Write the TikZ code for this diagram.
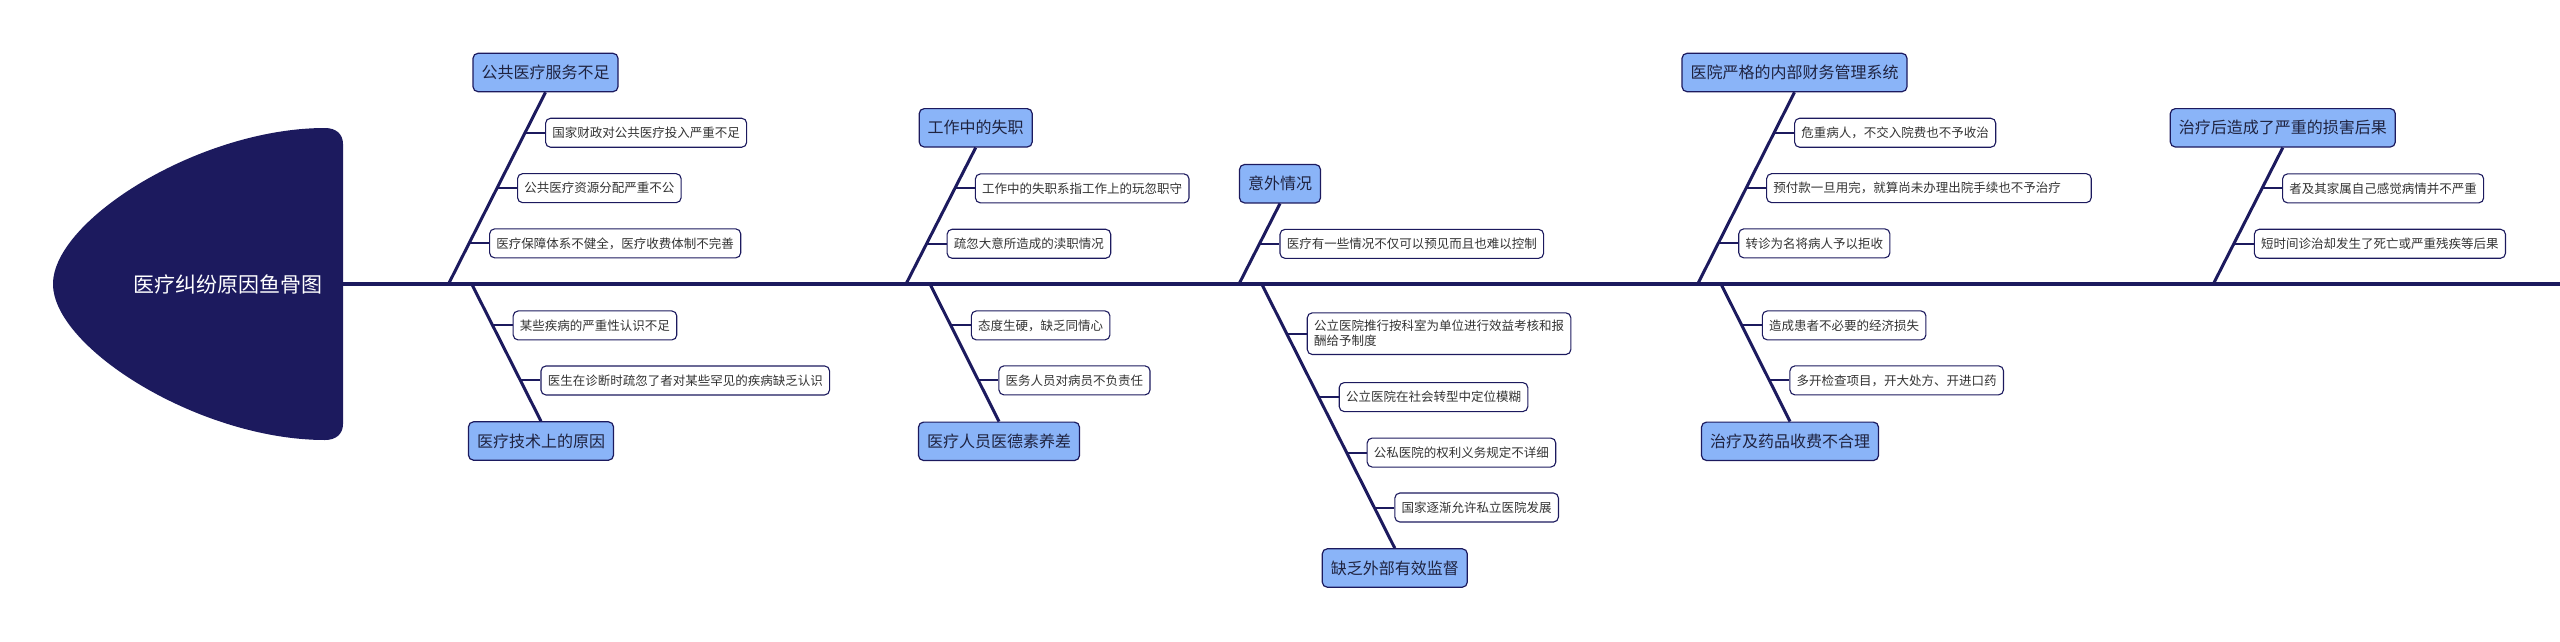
\documentclass[tikz,border=0pt]{standalone}
\usepackage{fontspec}
\newfontfamily\cjk{Noto Sans CJK SC}
\usetikzlibrary{calc}
\definecolor{navy}{HTML}{1C1A5E}
\definecolor{catblue}{HTML}{8AB4F8}
\definecolor{txt}{HTML}{333333}
\definecolor{cattxt}{HTML}{1F2340}
\begin{document}
\begin{tikzpicture}[x=1pt,y=-1pt,
 cat/.style={draw=navy, fill=catblue, rounded corners=5pt, line width=1.2pt, font=\cjk\fontsize{16}{19}\selectfont, text=cattxt, minimum height=38.4pt, inner xsep=8.5pt, inner ysep=2pt},
 sub/.style={draw=navy, fill=white, rounded corners=5pt, line width=1.1pt, font=\cjk\fontsize{12.5}{15}\selectfont, text=txt, minimum height=29pt, inner xsep=6.8pt, inner ysep=2pt, anchor=west},
 spine/.style={draw=navy, line width=3.2pt},
 bone/.style={draw=navy, line width=3pt},
 twig/.style={draw=navy, line width=2pt},
]
\useasboundingbox (0,0) rectangle (2560,641);
% head
\fill[navy] (325,128) .. controls (200,128) and (53,220) .. (53,284)
  .. controls (53,348) and (200,440) .. (325,440)
  .. controls (336,440) and (343,434) .. (343,424) -- (343,144)
  .. controls (343,134) and (336,128) .. (325,128) -- cycle;
\node[font=\cjk\fontsize{21}{25}\selectfont, text=white] (title) at (227.5,284) {医疗纠纷原因鱼骨图};
\coordinate (hd) at (343,284);
\coordinate (tail) at (2560,284);
\draw[spine] (hd) -- (tail);

% ---------- Bone 1 up
\coordinate (p1u) at (448.5,284);
\node[cat] (c1) at (545.5,72.5) {公共医疗服务不足};
\draw[bone] (p1u) -- (c1.south);
\coordinate (k11) at ($(p1u)!0.789!(c1.south)$);
\node[sub] (s11) at ($(k11)+(20,0)$) {国家财政对公共医疗投入严重不足};
\draw[twig] (k11) -- (s11.west);
\coordinate (k12) at ($(p1u)!0.500!(c1.south)$);
\node[sub] (s12) at ($(k12)+(20,0)$) {公共医疗资源分配严重不公};
\draw[twig] (k12) -- (s12.west);
\coordinate (k13) at ($(p1u)!0.212!(c1.south)$);
\node[sub] (s13) at ($(k13)+(20,0)$) {医疗保障体系不健全，医疗收费体制不完善};
\draw[twig] (k13) -- (s13.west);

% ---------- Bone 1 down
\coordinate (p1d) at (471.7,284);
\node[cat] (d1) at (541,441) {医疗技术上的原因};
\draw[bone] (p1d) -- (d1.north);
\coordinate (m11) at ($(p1d)!0.302!(d1.north)$);
\node[sub] (t11) at ($(m11)+(20,0)$) {某些疾病的严重性认识不足};
\draw[twig] (m11) -- (t11.west);
\coordinate (m12) at ($(p1d)!0.703!(d1.north)$);
\node[sub] (t12) at ($(m12)+(20,0)$) {医生在诊断时疏忽了者对某些罕见的疾病缺乏认识};
\draw[twig] (m12) -- (t12.west);

% ---------- Bone 2 up
\coordinate (p2u) at (906,284);
\node[cat] (c2) at (975.7,127.8) {工作中的失职};
\draw[bone] (p2u) -- (c2.south);
\coordinate (k21) at ($(p2u)!0.701!(c2.south)$);
\node[sub] (s21) at ($(k21)+(20,0)$) {工作中的失职系指工作上的玩忽职守};
\draw[twig] (k21) -- (s21.west);
\coordinate (k22) at ($(p2u)!0.295!(c2.south)$);
\node[sub] (s22) at ($(k22)+(20,0)$) {疏忽大意所造成的渎职情况};
\draw[twig] (k22) -- (s22.west);

% ---------- Bone 2 down
\coordinate (p2d) at (930,284);
\node[cat] (d2) at (999,441.3) {医疗人员医德素养差};
\draw[bone] (p2d) -- (d2.north);
\coordinate (m21) at ($(p2d)!0.301!(d2.north)$);
\node[sub] (t21) at ($(m21)+(20,0)$) {态度生硬，缺乏同情心};
\draw[twig] (m21) -- (t21.west);
\coordinate (m22) at ($(p2d)!0.701!(d2.north)$);
\node[sub] (t22) at ($(m22)+(20,0)$) {医务人员对病员不负责任};
\draw[twig] (m22) -- (t22.west);

% ---------- Bone 3 up
\coordinate (p3u) at (1239,284);
\node[cat] (c3) at (1280,183.7) {意外情况};
\draw[bone] (p3u) -- (c3.south);
\coordinate (k31) at ($(p3u)!0.499!(c3.south)$);
\node[sub] (s31) at ($(k31)+(20,0)$) {医疗有一些情况不仅可以预见而且也难以控制};
\draw[twig] (k31) -- (s31.west);

% ---------- Bone 3 down
\coordinate (p3d) at (1261.7,284);
\node[cat] (d3) at (1394.8,568) {缺乏外部有效监督};
\draw[bone] (p3d) -- (d3.north);
\coordinate (m31) at ($(p3d)!0.188!(d3.north)$);
\node[sub, align=left, inner ysep=7.5pt] (t31) at ($(m31)+(20,0)$) {公立医院推行按科室为单位进行效益考核和报\\酬给予制度};
\draw[twig] (m31) -- (t31.west);
\coordinate (m32) at ($(p3d)!0.428!(d3.north)$);
\node[sub] (t32) at ($(m32)+(20,0)$) {公立医院在社会转型中定位模糊};
\draw[twig] (m32) -- (t32.west);
\coordinate (m33) at ($(p3d)!0.638!(d3.north)$);
\node[sub] (t33) at ($(m33)+(20,0)$) {公私医院的权利义务规定不详细};
\draw[twig] (m33) -- (t33.west);
\coordinate (m34) at ($(p3d)!0.846!(d3.north)$);
\node[sub] (t34) at ($(m34)+(20,0)$) {国家逐渐允许私立医院发展};
\draw[twig] (m34) -- (t34.west);

% ---------- Bone 4 up
\coordinate (p4u) at (1697.7,284);
\node[cat] (c4) at (1794.5,72.5) {医院严格的内部财务管理系统};
\draw[bone] (p4u) -- (c4.south);
\coordinate (k41) at ($(p4u)!0.789!(c4.south)$);
\node[sub] (s41) at ($(k41)+(20,0)$) {危重病人，不交入院费也不予收治};
\draw[twig] (k41) -- (s41.west);
\coordinate (k42) at ($(p4u)!0.500!(c4.south)$);
\node[sub, text width=311pt, align=left] (s42) at ($(k42)+(20,0)$) {预付款一旦用完，就算尚未办理出院手续也不予治疗};
\draw[twig] (k42) -- (s42.west);
\coordinate (k43) at ($(p4u)!0.212!(c4.south)$);
\node[sub] (s43) at ($(k43)+(20,0)$) {转诊为名将病人予以拒收};
\draw[twig] (k43) -- (s43.west);

% ---------- Bone 4 down
\coordinate (p4d) at (1721,284);
\node[cat] (d4) at (1790,441.3) {治疗及药品收费不合理};
\draw[bone] (p4d) -- (d4.north);
\coordinate (m41) at ($(p4d)!0.301!(d4.north)$);
\node[sub] (t41) at ($(m41)+(20,0)$) {造成患者不必要的经济损失};
\draw[twig] (m41) -- (t41.west);
\coordinate (m42) at ($(p4d)!0.701!(d4.north)$);
\node[sub] (t42) at ($(m42)+(20,0)$) {多开检查项目，开大处方、开进口药};
\draw[twig] (m42) -- (t42.west);

% ---------- Bone 5 up
\coordinate (p5u) at (2213.3,284);
\node[cat] (c5) at (2282.8,127.8) {治疗后造成了严重的损害后果};
\draw[bone] (p5u) -- (c5.south);
\coordinate (k51) at ($(p5u)!0.701!(c5.south)$);
\node[sub] (s51) at ($(k51)+(20,0)$) {者及其家属自己感觉病情并不严重};
\draw[twig] (k51) -- (s51.west);
\coordinate (k52) at ($(p5u)!0.295!(c5.south)$);
\node[sub] (s52) at ($(k52)+(20,0)$) {短时间诊治却发生了死亡或严重残疾等后果};
\draw[twig] (k52) -- (s52.west);
\end{tikzpicture}
\end{document}
